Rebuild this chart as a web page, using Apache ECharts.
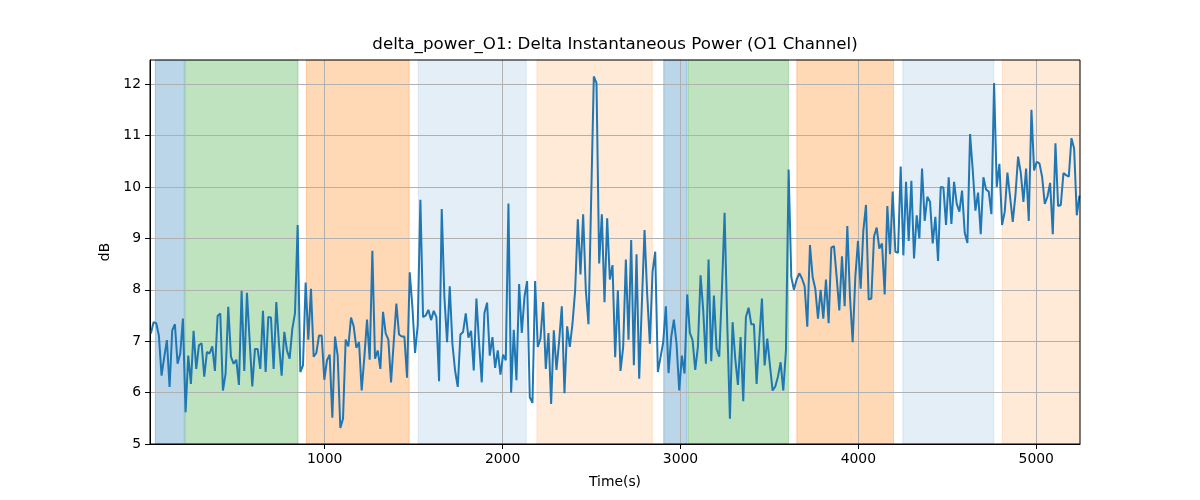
<!DOCTYPE html>
<html>
<head>
<meta charset="utf-8">
<script src="https://cdn.jsdelivr.net/npm/echarts@6/dist/echarts.min.js"></script>
<style>html,body{margin:0;padding:0;background:#fff}#c{width:1200px;height:500px}</style>
</head>
<body>
<div id="c"></div>
<script>
// ---- data ----
const chartTitle = 'delta_power_O1: Delta Instantaneous Power (O1 Channel)';
const xAxisName = 'Time(s)';
const yAxisName = 'dB';
const sampleStart = 23;   // first sample time (s)
const sampleStep = 15;    // sampling interval (s)
const powerDb = [
  7.15,7.37,7.35,7.11,6.33,6.69,7.02,6.11,7.21,7.33,
  6.56,6.76,7.44,5.62,6.72,6.17,7.2,6.46,6.92,6.96,
  6.31,6.79,6.76,6.9,6.42,7.49,7.54,6.04,6.37,7.67,
  6.7,6.56,6.64,6.15,7.98,6.42,7.94,7.02,6.12,6.85,
  6.85,6.46,7.59,6.4,7.47,7.46,6.46,7.76,6.95,6.33,
  7.18,6.82,6.66,7.24,7.54,9.26,6.4,6.53,8.14,7.03,
  8.02,6.7,6.77,7.11,7.11,6.25,6.63,6.74,5.51,7.09,
  6.72,5.31,5.49,7.03,6.9,7.46,7.29,6.87,6.98,6.04,
  6.69,7.42,6.64,8.76,6.66,6.82,6.46,7.57,7.15,7.03,
  6.2,6.98,7.73,7.13,7.09,7.09,6.29,8.34,7.67,6.77,
  7.31,9.75,7.47,7.5,7.61,7.41,7.59,7.47,6.22,9.57,
  7.86,6.98,8.07,6.95,6.43,6.11,7.13,7.18,7.54,7.07,
  7.2,6.43,7.83,6.96,6.2,7.55,7.75,6.72,7.08,6.48,
  6.82,6.35,6.74,6.63,9.68,6.0,7.22,6.24,8.11,7.16,
  7.86,8.17,5.91,5.8,8.17,6.89,7.05,7.76,6.46,7.16,
  5.78,7.21,6.44,7.0,7.68,5.99,7.29,6.89,7.34,7.99,
  9.37,8.3,9.47,7.99,7.33,9.76,12.15,12.02,8.51,9.47,
  7.76,9.39,8.2,8.48,6.69,7.99,6.42,6.89,8.59,7.03,
  8.97,6.53,8.69,6.27,7.73,9.16,7.91,6.95,8.35,8.74,
  6.4,6.69,6.98,7.68,6.38,7.08,7.42,6.95,6.04,6.72,
  6.37,7.91,7.16,7.02,6.44,6.89,8.28,7.6,6.56,8.59,
  6.61,7.89,6.85,6.7,7.99,9.5,7.34,5.49,7.37,6.66,
  6.15,7.08,5.83,7.47,7.65,7.33,7.33,6.17,7.02,7.83,
  6.53,7.05,6.53,6.04,6.12,6.31,6.59,6.04,6.82,10.34,
  8.25,8.0,8.2,8.32,8.22,8.07,7.28,8.87,8.25,8.02,
  7.44,8.0,7.44,8.2,7.35,8.82,8.85,8.25,7.6,8.65,
  7.68,9.24,7.86,6.98,8.25,8.95,8.02,9.15,9.65,7.81,
  7.83,9.03,9.21,8.8,8.9,7.91,9.63,8.69,9.91,8.74,
  8.72,10.4,8.67,10.1,8.95,10.12,8.61,9.45,9.0,10.36,
  9.34,9.81,9.71,8.9,9.42,8.56,10.0,9.99,9.26,10.19,
  9.28,10.1,9.67,9.52,9.93,9.11,8.91,11.03,10.33,9.54,
  9.89,9.08,10.19,9.95,9.91,9.47,12.02,10.0,10.45,9.26,
  9.52,10.28,9.81,9.32,9.84,10.59,10.28,9.71,10.36,9.34,
  11.5,10.32,10.49,10.46,10.2,9.67,9.81,10.08,9.08,10.85,
  9.63,9.65,10.27,10.23,10.2,10.95,10.75,9.45,9.83
];
const xTickValues = [1000, 2000, 3000, 4000, 5000];
const yTickValues = [5, 6, 7, 8, 9, 10, 11, 12];
const xMin = 18, xMax = 5246;
const yMin = 5, yMax = 12.47;
const bandStarts = [48, 215, 897, 1526, 2193, 2906, 3043, 3654, 4250, 4809];
const bandEnds   = [211, 850, 1475, 2133, 2842, 3037, 3607, 4198, 4761, 5246];
const bandKinds  = ['blue','green','orange','lightblue','lightorange','blue','green','orange','lightblue','lightorange'];

// ---- styles ----
const bandColors = {
  blue: 'rgba(31,119,180,0.3)',
  green: 'rgba(44,160,44,0.3)',
  orange: 'rgba(255,127,14,0.3)',
  lightblue: 'rgba(31,119,180,0.12)',
  lightorange: 'rgba(255,127,14,0.16)'
};
const FONT = 'DejaVu Sans';

const times = powerDb.map((_, i) => sampleStart + i * sampleStep);
const lineData = powerDb.map((v, i) => [times[i], v]);
const areas = bandStarts.map((s, i) => [
  { xAxis: s, itemStyle: { color: bandColors[bandKinds[i]], borderColor: bandColors[bandKinds[i]], borderWidth: 1 } },
  { xAxis: bandEnds[i] }
]);
const plainNumber = v => String(v);

const chart = echarts.init(document.getElementById('c'), null, { renderer: 'canvas' });
chart.setOption({
  animation: false,
  backgroundColor: '#fff',
  textStyle: { fontFamily: FONT },
  graphic: [{
    type: 'text', x: 615, y: 45, z: 10,
    style: { text: chartTitle, fontSize: 16.7, fontFamily: FONT, fill: '#000', align: 'center', verticalAlign: 'middle' }
  }],
  grid: { left: 150, right: 120, top: 60, bottom: 56, show: true, borderColor: '#000', borderWidth: 1, backgroundColor: 'transparent', z: 3 },
  xAxis: {
    type: 'value', min: xMin, max: xMax, z: 1.5,
    name: xAxisName, nameLocation: 'middle', nameGap: 31,
    nameTextStyle: { fontSize: 13.9, color: '#000', fontFamily: FONT },
    axisLine: { show: true, onZero: false, lineStyle: { color: '#000', width: 1 } },
    axisTick: { show: true, length: 5, customValues: xTickValues, lineStyle: { color: '#000', width: 1 } },
    axisLabel: { customValues: xTickValues, formatter: plainNumber, fontSize: 13.9, color: '#000', margin: 8, fontFamily: FONT },
    splitLine: { show: true, lineStyle: { color: '#b0b0b0', width: 1 } }
  },
  yAxis: {
    type: 'value', min: yMin, max: yMax, interval: 1, z: 1.5,
    name: yAxisName, nameLocation: 'middle', nameGap: 33,
    nameTextStyle: { fontSize: 13.9, color: '#000', fontFamily: FONT },
    axisLine: { show: true, onZero: false, lineStyle: { color: '#000', width: 1 } },
    axisTick: { show: true, length: 5, customValues: yTickValues, lineStyle: { color: '#000', width: 1 } },
    axisLabel: { customValues: yTickValues, formatter: plainNumber, fontSize: 13.9, color: '#000', margin: 9, fontFamily: FONT },
    splitLine: { show: true, lineStyle: { color: '#b0b0b0', width: 1 } }
  },
  series: [{
    type: 'line',
    data: lineData,
    showSymbol: false,
    clip: true,
    z: 2,
    lineStyle: { color: '#1f77b4', width: 2 },
    itemStyle: { color: '#1f77b4' },
    markArea: { silent: true, z: 1, data: areas }
  }]
});
</script>
</body>
</html>
